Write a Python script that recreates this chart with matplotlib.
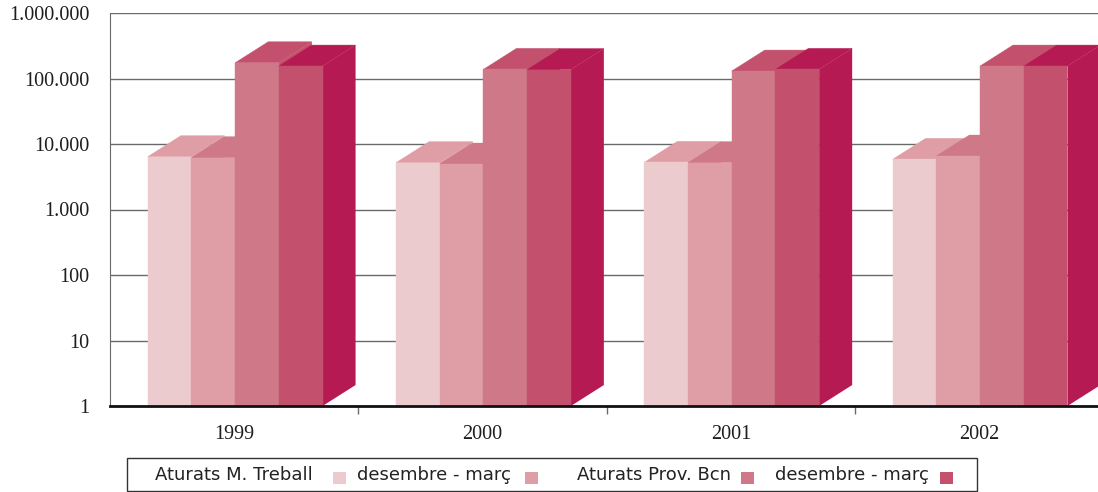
import matplotlib
matplotlib.use('Agg')
from matplotlib import pyplot as plt
from matplotlib.patches import Polygon, Rectangle
from matplotlib.ticker import FixedLocator, FuncFormatter

years = ['1999', '2000', '2001', '2002']
labels = ['Aturats M. Treball', 'desembre - març', 'Aturats Prov. Bcn', 'desembre - març']
# values
treball = [6400, 5190, 5250, 5840]
treball_dm = [6180, 4950, 5200, 6560]
prov_bcn = [174000, 138000, 130000, 155000]
prov_bcn_dm = [155000, 137000, 138000, 155000]
series = [treball, treball_dm, prov_bcn, prov_bcn_dm]

front_cols = ['#ECCBCF', '#DF9DA5', '#CF7887', '#C3516E']
top_cols = ['#DF9DA5', '#CF7887', '#C3516E', '#B51B52']

W, H = 1098, 492
fig = plt.figure(figsize=(W/100, H/100), dpi=100)
ax = fig.add_axes([110/W, 86/H, 988/W, 393/H])
ax.set_yscale('log')
ax.set_ylim(1, 1e6)
ax.set_xlim(0, 988/248.3)

bw = 0.176      # bar width (category = 1)
off = 0.152     # gap before first bar
dx = 0.133      # depth shift to the right
fy = 10**0.32   # depth shift upwards (log axis)

for g in range(len(years)):
    for s in range(len(series)):
        v = series[s][g]
        x0 = g + off + s*bw
        x1 = x0 + bw
        side = Polygon([(x1, 1), (x1, v), (x1+dx, v*fy), (x1+dx, fy)],
                       closed=True, fc=top_cols[s], ec='none', zorder=3+s)
        top = Polygon([(x0, v), (x1, v), (x1+dx, v*fy), (x0+dx, v*fy)],
                      closed=True, fc=top_cols[s], ec=top_cols[s], lw=0.3, zorder=3+s)
        ax.add_patch(side)
        ax.add_patch(top)
        ax.bar(x0, v, width=bw, bottom=1, align='edge', color=front_cols[s],
               edgecolor=front_cols[s], linewidth=0.3, zorder=3+s)

ax.set_yticks([10**k for k in range(7)])
ax.yaxis.set_minor_locator(FixedLocator([]))
ax.yaxis.set_major_formatter(FuncFormatter(lambda v, p: f'{int(round(v)):,}'.replace(',', '.')))
ax.grid(axis='y', color='#6A6A6A', linewidth=1, zorder=0)
ax.set_axisbelow(True)

ax.set_xticks([g + 0.5 for g in range(len(years))])
ax.set_xticklabels(years)
ax.set_xticks(range(1, len(years)), minor=True)
ax.tick_params(axis='x', which='major', length=0, pad=14)
ax.tick_params(axis='x', which='minor', length=6, width=1, color='#6A6A6A', direction='out')
ax.tick_params(axis='y', length=0, pad=15)
for t in ax.get_xticklabels() + ax.get_yticklabels():
    t.set_family('Liberation Serif')
    t.set_fontsize(14.5)
    t.set_color('#1E1E1E')

ax.spines['top'].set_visible(False)
ax.spines['right'].set_visible(False)
ax.spines['left'].set_color('#6A6A6A')
ax.spines['bottom'].set_color('#111111')
ax.spines['bottom'].set_linewidth(2)
ax.spines['bottom'].set_zorder(10)

# legend box drawn by hand: text first, then the colour square
def fx(px):
    return px / W

def fyy(py):
    return 1 - py / H

fig.add_artist(Rectangle((fx(127), fyy(491)), fx(977) - fx(127), (491 - 458)/H,
                         transform=fig.transFigure, fc='white', ec='#333333', lw=1))
text_x = [155, 357, 577, 775]
box_x = [333, 525, 741, 940]
for i in range(len(labels)):
    fig.text(fx(text_x[i]), fyy(475), labels[i], ha='left', va='center',
             family='DejaVu Sans', fontsize=13, color='#222222')
    fig.add_artist(Rectangle((fx(box_x[i]), fyy(484)), 13/W, 12/H,
                             transform=fig.transFigure, fc=front_cols[i], ec='none'))

fig.savefig('out.png', dpi=100)
